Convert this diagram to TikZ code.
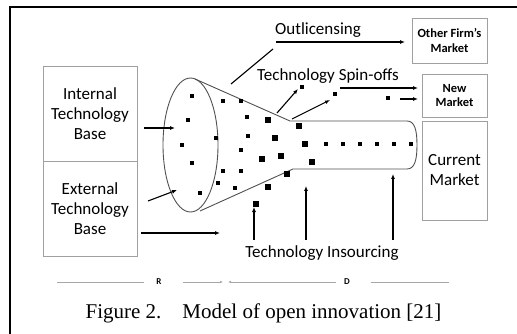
\documentclass[tikz,border=0pt]{standalone}
\usepackage{fontspec}
\setmainfont{Carlito}
\newfontfamily\capfont{Liberation Serif}
\usetikzlibrary{arrows.meta,positioning}
\definecolor{boxgray}{HTML}{A0A0A0}
\definecolor{conegray}{HTML}{505050}

\begin{document}
\begin{tikzpicture}[x=1pt,y=-1pt,>={Latex[length=5pt,width=4pt]},
  mbox/.style={draw=boxgray,line width=0.8pt,align=center,inner sep=0pt},
  big/.style={font=\fontsize{17}{20}\selectfont},
  small/.style={font=\bfseries\fontsize{12.5}{14}\selectfont},
  flow/.style={->,line width=1.1pt},
  scaleline/.style={draw=gray!70,line width=0.8pt}]
  \useasboundingbox (0,0) rectangle (517,334);
  \draw[line width=2pt] (10,334) -- (10,7) -- (517,7);
  % technology bases
  \node[mbox,big,minimum width=94pt,minimum height=95pt] (internal) at (90,113.5) {Internal\\Technology\\Base};
  \node[mbox,big,minimum width=94pt,minimum height=95pt] (external) at (90,208.5) {External\\Technology\\Base};
  % markets
  \node[mbox,small,minimum width=75pt,minimum height=45pt] (other) at (449.5,40.5) {Other Firm's\\Market};
  \node[mbox,small,minimum width=65pt,minimum height=43pt] (new) at (454.5,95.5) {New\\Market};
  \node[mbox,big,minimum width=65pt,minimum height=99pt] (current) at (454.5,170.5) {Current\\Market};
  % funnel
  \coordinate (mouth) at (190.5,145);
  \draw[conegray,line width=0.9pt] (mouth) ellipse (27.5pt and 67pt);
  \draw[conegray,line width=0.9pt] (195,79) -- (290,121) -- (407,121)
    .. controls (415,121) and (417,131) .. (417,145)
    .. controls (417,159) and (415,169) .. (407,169) -- (293,169) -- (200,211);
  % projects
  \foreach \x/\y in {192/96,223/101,241/101,188/120,247/117,216/138,248/136,182/145,
    241/150,192/163,223/171,241/171,218/183,235/188,200/193,302/87,335/94,388/98,
    326/144,343/144,360/144,377/144,394/144,411/144}
    \fill (\x-1.8,\y-1.8) rectangle (\x+1.8,\y+1.8);
  \foreach \x/\y in {268/120,299/126,275/138,305/144,262/159,281/156,312/162,
    287/174,268/187,256/204}
    \fill (\x-2.6,\y-2.6) rectangle (\x+2.6,\y+2.6);
  % labels
  \node[big] (outl) at (318,30) {Outlicensing};
  \node[big] (spin) at (328,76) {Technology Spin-offs};
  \node[big] (insrc) at (322,253) {Technology Insourcing};
  % arrow ends
  \coordinate (a1) at (144,128); \coordinate (b1) at (175,128);
  \coordinate (a2) at (148,201); \coordinate (b2) at (177,190);
  \coordinate (a3) at (141,233); \coordinate (b3) at (220,233);
  \coordinate (o1) at (231,84);  \coordinate (o2) at (273,49);
  \coordinate (o3) at (276,42);  \coordinate (o4) at (405,42);
  \coordinate (s1) at (277,113); \coordinate (s2) at (298,89);
  \coordinate (s3) at (292,119); \coordinate (s4) at (330,100);
  \coordinate (s5) at (340,88);  \coordinate (s6) at (418,88);
  \coordinate (s7) at (400,99);  \coordinate (s8) at (418,99);
  \draw[flow] (a1) -- (b1);
  \draw[flow] (a2) -- (b2);
  \draw[flow] (a3) -- (b3);
  \draw[line width=1.1pt] (o1) -- (o2);
  \draw[flow] (o3) -- (o4);
  \draw[flow] (s1) -- (s2);
  \draw[flow] (s3) -- (s4);
  \draw[flow] (s5) -- (s6);
  \draw[flow] (s7) -- (s8);
  \foreach \x/\y in {254/207,306/186,393/174}
    \draw[flow] (\x,240) -- (\x,\y);
  % research / development scale
  \node[font=\bfseries\fontsize{9}{10}\selectfont,inner sep=0pt] (r) at (159,282) {R};
  \node[font=\bfseries\fontsize{9}{10}\selectfont,inner sep=0pt] (d) at (347,282) {D};
  \draw[scaleline] (57,282) -- (144,282);
  \draw[scaleline,-{Latex[length=3pt,width=2.5pt]}] (183,282) -- (223,282);
  \draw[scaleline,-{Latex[length=3pt,width=2.5pt]}] (336,282) -- (228,282);
  \draw[scaleline] (371,282) -- (449,282);
  % caption
  \node[font=\capfont\fontsize{21}{24}\selectfont] (cap) at (263.5,313) {Figure 2.\quad Model of open innovation [21]};
\end{tikzpicture}
\end{document}
